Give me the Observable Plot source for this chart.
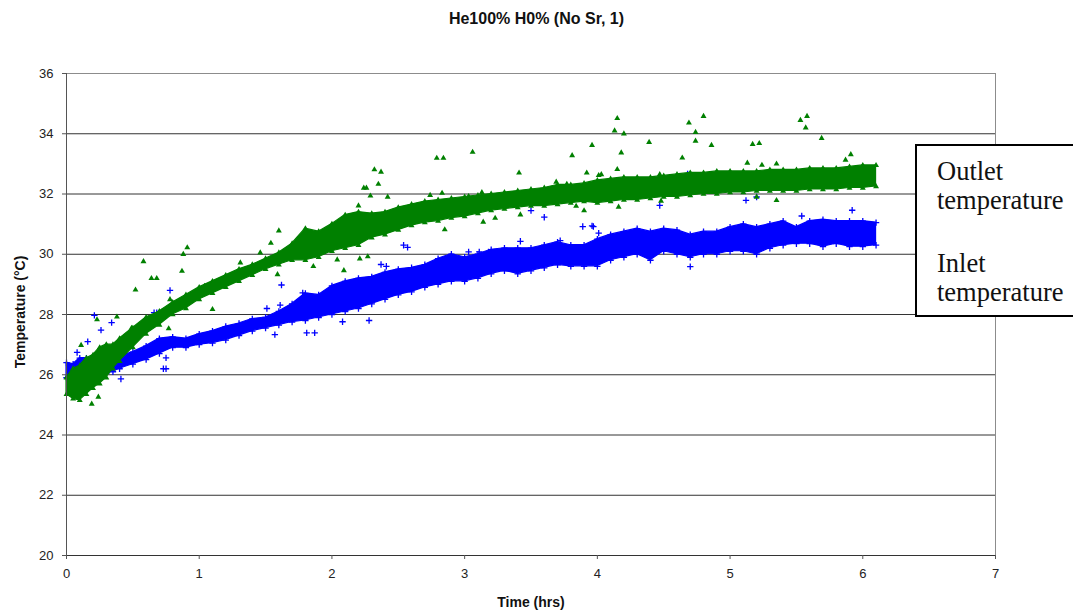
<!DOCTYPE html>
<html>
<head>
<meta charset="utf-8">
<script src="https://cdn.jsdelivr.net/npm/d3@7"></script>
<script src="https://cdn.jsdelivr.net/npm/@observablehq/plot@0.6"></script>
<style>
  body { margin: 0; background: #fff; }
  #chart { position: relative; width: 1073px; height: 612px; overflow: hidden;
           font-family: "Liberation Sans", Arial, sans-serif; color: #111; }
  #chart svg { position: absolute; left: 0; top: 0; }
  .title { position: absolute; left: 0; top: 10px; width: 1073px; text-align: center;
           font-weight: bold; font-size: 16px; }
  .ylab { position: absolute; left: 20px; top: 312px; white-space: nowrap;
          transform: translate(-50%, -50%) rotate(-90deg);
          font-weight: bold; font-size: 14px; }
  .xlab { position: absolute; left: 531px; top: 602px; white-space: nowrap;
          transform: translate(-50%, -50%); font-weight: bold; font-size: 14px; }
  .legend { position: absolute; left: 915px; top: 144px; width: 175px; height: 173px;
            box-sizing: border-box; border: 2px solid #000; background: #fff;
            font-family: "Liberation Serif", "Times New Roman", serif; font-size: 26.5px;
            line-height: 29px; }
  .legend div { position: absolute; left: 20px; white-space: nowrap; }
</style>
</head>
<body>
<div id="chart">
  <div class="title">He100% H0% (No Sr, 1)</div>
  <div class="ylab">Temperature (°C)</div>
  <div class="xlab">Time (hrs)</div>
  <div class="legend">
    <div style="top:11px">Outlet<br>temperature</div>
    <div style="top:103px">Inlet<br>temperature</div>
  </div>
</div>
<script>
// Time axis (hours) shared by both sensor traces
const hours = [0, 0.05, 0.1, 0.15, 0.2, 0.25, 0.3, 0.35, 0.4, 0.5, 0.6, 0.7, 0.8, 0.9,
  1.0, 1.1, 1.2, 1.3, 1.4, 1.5, 1.6, 1.7, 1.8, 1.9, 2.0, 2.1, 2.2, 2.3, 2.4, 2.5, 2.6,
  2.7, 2.8, 2.9, 3.0, 3.1, 3.2, 3.3, 3.4, 3.5, 3.6, 3.7, 3.8, 3.9, 4.0, 4.1, 4.2, 4.3,
  4.4, 4.5, 4.6, 4.7, 4.8, 4.9, 5.0, 5.1, 5.2, 5.3, 5.4, 5.5, 5.6, 5.7, 5.8, 5.9, 6.0, 6.1];

// Outlet temperature: upper and lower edge of the dense reading cloud (°C)
const outletHi = [25.9, 26.2, 26.3, 26.55, 26.65, 26.9, 27.0, 27.0, 27.2, 27.55, 27.9, 28.1,
  28.4, 28.65, 28.9, 29.1, 29.3, 29.5, 29.65, 29.85, 30.05, 30.35, 30.85, 30.75, 31.0, 31.3,
  31.4, 31.35, 31.4, 31.55, 31.65, 31.75, 31.8, 31.85, 31.9, 31.95, 32.0, 32.05, 32.1, 32.15,
  32.2, 32.3, 32.3, 32.35, 32.45, 32.5, 32.55, 32.55, 32.55, 32.6, 32.65, 32.7, 32.7, 32.75,
  32.75, 32.75, 32.75, 32.8, 32.8, 32.8, 32.85, 32.85, 32.85, 32.9, 32.95, 32.95];
const outletLo = [25.35, 25.2, 25.15, 25.35, 25.55, 25.7, 25.9, 26.2, 26.45, 26.9, 27.35, 27.65,
  28.0, 28.2, 28.5, 28.7, 28.9, 29.1, 29.3, 29.5, 29.65, 29.8, 29.8, 29.9, 30.1, 30.2,
  30.3, 30.55, 30.65, 30.8, 30.95, 31.05, 31.1, 31.2, 31.25, 31.35, 31.45, 31.5, 31.55, 31.6,
  31.6, 31.65, 31.7, 31.75, 31.7, 31.75, 31.8, 31.8, 31.85, 31.9, 31.9, 31.95, 32.0, 32.0,
  32.05, 32.05, 32.1, 32.1, 32.1, 32.1, 32.15, 32.15, 32.15, 32.2, 32.2, 32.25];

// Inlet temperature: upper and lower edge of the dense reading cloud (°C)
const inletHi = [26.4, 26.35, 26.55, 26.55, 26.45, 26.45, 26.45, 26.5, 26.6, 26.75, 26.95, 27.2,
  27.25, 27.2, 27.35, 27.45, 27.6, 27.7, 27.85, 27.9, 28.1, 28.35, 28.7, 28.65, 28.95, 29.1,
  29.2, 29.25, 29.4, 29.5, 29.55, 29.65, 29.85, 30.0, 29.9, 30.0, 30.15, 30.2, 30.2, 30.2,
  30.3, 30.4, 30.3, 30.3, 30.5, 30.65, 30.75, 30.85, 30.75, 30.85, 30.8, 30.65, 30.75, 30.75,
  30.9, 31.0, 30.9, 31.0, 31.1, 30.9, 31.1, 31.15, 31.1, 31.1, 31.1, 31.05];
const inletLo = [25.9, 25.8, 25.9, 26.0, 26.0, 26.0, 26.05, 26.1, 26.2, 26.35, 26.5, 26.7,
  26.9, 26.9, 27.0, 27.05, 27.15, 27.3, 27.45, 27.55, 27.65, 27.75, 27.8, 27.9, 28.0, 28.1,
  28.2, 28.35, 28.5, 28.65, 28.75, 28.9, 29.0, 29.1, 29.1, 29.2, 29.35, 29.45, 29.35, 29.45,
  29.55, 29.65, 29.6, 29.6, 29.6, 29.8, 29.9, 30.0, 29.8, 30.1, 30.0, 29.9, 30.0, 30.0,
  30.1, 30.1, 30.0, 30.2, 30.3, 30.35, 30.35, 30.25, 30.35, 30.25, 30.25, 30.3];

// Isolated outlet readings away from the main trace [hours, °C]
const outletStray = [
  [0.91, 30.22], [0.88, 30.0], [0.58, 29.76], [0.64, 29.2], [0.68, 29.2], [0.87, 29.44],
  [0.52, 28.82], [0.72, 28.1], [0.78, 28.5], [0.23, 27.83], [0.38, 27.92], [0.49, 27.55],
  [0.19, 25.03], [0.24, 25.26], [0.11, 26.98], [1.46, 30.05], [1.54, 30.37], [1.31, 29.72],
  [1.10, 28.17], [1.59, 29.33], [0.77, 27.53], [1.04, 28.94], [1.6, 30.78],
  [2.79, 33.19], [2.84, 33.19], [3.06, 33.39], [2.32, 32.81], [2.37, 32.73], [2.35, 32.33],
  [2.24, 32.2], [2.26, 32.2], [2.29, 31.94], [2.42, 31.9], [2.20, 31.61], [3.41, 32.7],
  [3.81, 33.28], [3.92, 32.7], [4.01, 32.62], [3.69, 32.4], [3.77, 32.33], [3.13, 32.05],
  [2.83, 32.03], [3.03, 31.92], [2.74, 31.96], [2.09, 29.46], [2.21, 29.85], [2.27, 29.92],
  [1.86, 29.6], [2.04, 29.82], [2.85, 30.82], [3.14, 31.07], [3.23, 31.2], [3.42, 31.31],
  [3.84, 31.6], [3.90, 31.45],
  [4.15, 34.51], [4.13, 34.1], [4.2, 34.0], [3.96, 33.62], [4.39, 33.72], [4.18, 33.37],
  [4.15, 32.82], [4.69, 34.36], [4.80, 34.58], [4.74, 34.05], [4.74, 33.76], [4.86, 33.62],
  [4.64, 33.2], [5.17, 33.65], [5.22, 33.68], [5.53, 34.45], [5.58, 34.58], [5.57, 34.2],
  [5.69, 33.85], [5.91, 33.31], [5.87, 33.13], [5.13, 33.03], [5.24, 32.96], [5.35, 33.0],
  [4.47, 32.65], [4.03, 32.65], [4.48, 31.77], [4.16, 31.57], [5.35, 31.79], [5.20, 31.9]
];

// Isolated inlet readings away from the main trace [hours, °C]
const inletStray = [
  [0.78, 28.8], [1.11, 28.98], [1.62, 28.98], [1.51, 28.2], [1.61, 28.31], [0.21, 27.97],
  [0.26, 27.48], [0.34, 27.73], [0.73, 26.2], [0.75, 26.2], [0.75, 26.56], [0.41, 25.86],
  [0.08, 26.74], [0.16, 27.1], [1.57, 27.33], [1.78, 28.72], [1.83, 28.11], [0.66, 28.06],
  [0.68, 28.06],
  [1.81, 27.39], [1.87, 27.39], [2.28, 27.8], [2.08, 27.76], [2.37, 29.66], [2.41, 29.6],
  [2.54, 30.3], [2.57, 30.23], [3.5, 31.45], [3.60, 31.23], [3.89, 30.92], [3.97, 30.92],
  [3.03, 30.08], [3.11, 30.08], [3.18, 30.08], [3.42, 30.43], [3.72, 30.45], [4.01, 30.7],
  [4.47, 31.62], [4.68, 32.67], [5.12, 31.79], [5.20, 31.9], [5.54, 31.27], [5.92, 31.46],
  [4.70, 29.59], [6.0, 32.27], [3.96, 30.94]
];

const xTicks = [0, 1, 2, 3, 4, 5, 6, 7];
const yTicks = [20, 22, 24, 26, 28, 30, 32, 34, 36];

const BLUE = "#0000ff";
const GREEN = "#008000";

const outletBand = hours.map((t, i) => ({t, lo: outletLo[i], hi: outletHi[i]}));
const inletBand = hours.map((t, i) => ({t, lo: inletLo[i], hi: inletHi[i]}));
const edges = band => band.flatMap(d => [{t: d.t, v: d.lo}, {t: d.t, v: d.hi}]);

const chart = Plot.plot({
  width: 1073,
  height: 612,
  marginLeft: 66,
  marginRight: 78,
  marginTop: 73,
  marginBottom: 57,
  x: {domain: [0, 7]},
  y: {domain: [20, 36]},
  style: {fontFamily: "'Liberation Sans', Arial, sans-serif", fontSize: "13px", color: "#222", background: "transparent"},
  marks: [
    Plot.gridY(yTicks.slice(1, -1), {stroke: "#333", strokeOpacity: 1}),
    Plot.frame({stroke: "#8c8c8c"}),
    // inlet trace
    Plot.areaY(inletBand, {x: "t", y1: "lo", y2: "hi", fill: BLUE, stroke: BLUE, strokeWidth: 1.2}),
    Plot.dot(edges(inletBand), {x: "t", y: "v", symbol: "plus", r: 2.2, stroke: BLUE, strokeWidth: 1.3}),
    Plot.dot(inletStray, {x: d => d[0], y: d => d[1], symbol: "plus", r: 2.2, stroke: BLUE, strokeWidth: 1.3}),
    // outlet trace
    Plot.areaY(outletBand, {x: "t", y1: "lo", y2: "hi", fill: GREEN, stroke: GREEN, strokeWidth: 1.2}),
    Plot.dot(edges(outletBand), {x: "t", y: "v", symbol: "triangle", r: 2.2, fill: GREEN}),
    Plot.dot(outletStray, {x: d => d[0], y: d => d[1], symbol: "triangle", r: 2.2, fill: GREEN}),
    Plot.ruleX([0], {stroke: "#555"}),
    Plot.ruleY([20], {stroke: "#333"}),
    Plot.axisY(yTicks, {tickSize: 4, tickPadding: 9, tickFormat: "d", label: null, stroke: "#555", fill: "#222"}),
    Plot.axisX(xTicks, {tickSize: 4, tickPadding: 9, tickFormat: "d", label: null, stroke: "#555", fill: "#222"})
  ]
});
document.getElementById("chart").prepend(chart);
</script>
</body>
</html>
